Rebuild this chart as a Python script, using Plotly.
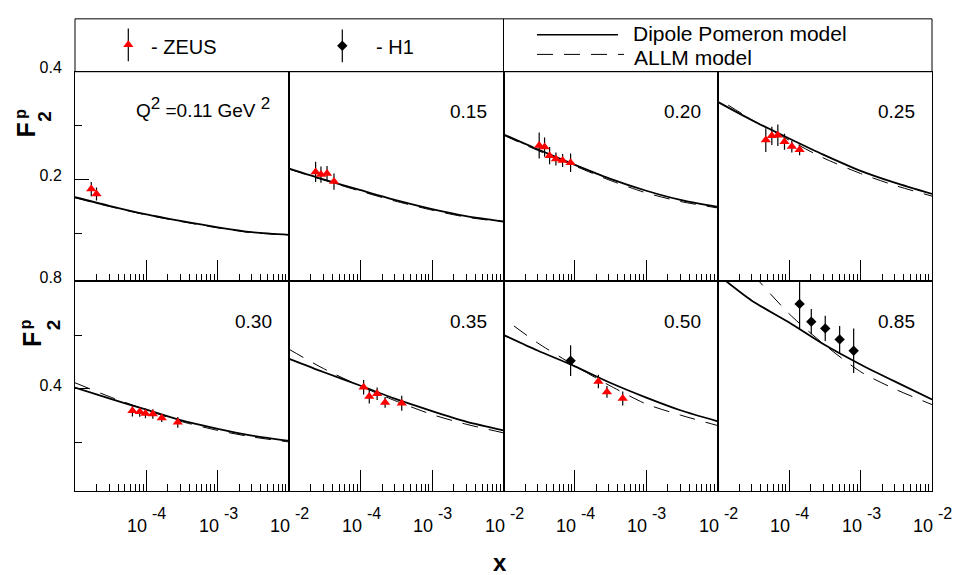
import math
import plotly.graph_objects as go

W, H = 953, 575
FONT = "Liberation Sans, Arial, Helvetica, sans-serif"

# ---------------- data ----------------
PANEL_LABELS = ["Q<sup><span style='font-size:17px'>2</span></sup> =0.11 GeV <sup><span style='font-size:17px'>2</span></sup>",
                "0.15", "0.20", "0.25", "0.30", "0.35", "0.50", "0.85"]

# model curves on a log-x grid
X_GRID = [1e-5, 3e-5, 1e-4, 3e-4, 1e-3, 3e-3, 1e-2]
DIPOLE = [
    [0.167, 0.151, 0.135, 0.123, 0.111, 0.102, 0.097],
    [0.220, 0.200, 0.180, 0.162, 0.145, 0.132, 0.122],
    [0.284, 0.256, 0.227, 0.202, 0.179, 0.162, 0.149],
    [0.344, 0.310, 0.276, 0.246, 0.216, 0.194, 0.173],
    [0.405, 0.365, 0.323, 0.284, 0.252, 0.227, 0.207],
    [0.512, 0.463, 0.412, 0.364, 0.318, 0.279, 0.246],
    [0.601, 0.543, 0.484, 0.425, 0.368, 0.321, 0.280],
    [0.825, 0.728, 0.647, 0.567, 0.491, 0.428, 0.361],
]
ALLM_X = [
    [1e-5, 3e-5, 1e-4, 3e-4, 1e-3, 3e-3, 1e-2],
    [1e-5, 3e-5, 1e-4, 3e-4, 1e-3, 3e-3, 1e-2],
    [1e-5, 3e-5, 1e-4, 3e-4, 1e-3, 3e-3, 1e-2],
    [1.4e-5, 3e-5, 1e-4, 3e-4, 1e-3, 3e-3, 1e-2],
    [1e-5, 3e-5, 1e-4, 3e-4, 1e-3, 3e-3, 1e-2],
    [1e-5, 3e-5, 1e-4, 3e-4, 1e-3, 3e-3, 1e-2],
    [1.4e-5, 3e-5, 1e-4, 3e-4, 1e-3, 3e-3, 1e-2],
    [3e-5, 1e-4, 3e-4, 1e-3, 3e-3, 1e-2],
]
ALLM = [
    [0.166, 0.150, 0.134, 0.122, 0.110, 0.101, 0.097],
    [0.219, 0.199, 0.178, 0.160, 0.143, 0.130, 0.121],
    [0.282, 0.254, 0.225, 0.199, 0.175, 0.159, 0.147],
    [0.338, 0.311, 0.273, 0.240, 0.211, 0.189, 0.169],
    [0.423, 0.372, 0.322, 0.280, 0.246, 0.222, 0.203],
    [0.547, 0.476, 0.410, 0.357, 0.305, 0.269, 0.237],
    [0.634, 0.571, 0.486, 0.414, 0.344, 0.303, 0.264],
    [0.830, 0.679, 0.568, 0.464, 0.400, 0.342],
]

# ZEUS data (red triangles)
ZEUS_X = [
    [1.69e-5, 2.0e-5],
    [2.34e-5, 2.78e-5, 3.38e-5, 4.23e-5],
    [3.16e-5, 3.76e-5, 4.42e-5, 5.42e-5, 6.72e-5, 8.7e-5],
    [4.71e-5, 5.72e-5, 6.94e-5, 8.6e-5, 1.09e-4, 1.40e-4],
    [6.37e-5, 8.07e-5, 9.7e-5, 1.23e-4, 1.64e-4, 2.75e-4],
    [1.10e-4, 1.32e-4, 1.70e-4, 2.20e-4, 3.76e-4],
    [2.13e-4, 2.81e-4, 4.67e-4],
    [],
]
ZEUS_Y = [
    [0.182, 0.173],
    [0.214, 0.209, 0.211, 0.196],
    [0.263, 0.260, 0.244, 0.238, 0.235, 0.231],
    [0.273, 0.281, 0.282, 0.270, 0.261, 0.255],
    [0.319, 0.315, 0.309, 0.307, 0.292, 0.276],
    [0.406, 0.372, 0.382, 0.350, 0.347],
    [0.428, 0.389, 0.365],
    [],
]
ZEUS_ERR = [
    [0.013, 0.012],
    [0.019, 0.015, 0.014, 0.015],
    [0.024, 0.018, 0.016, 0.012, 0.012, 0.017],
    [0.022, 0.017, 0.020, 0.015, 0.011, 0.010],
    [0.021, 0.018, 0.018, 0.018, 0.015, 0.020],
    [0.027, 0.026, 0.023, 0.020, 0.028],
    [0.025, 0.022, 0.026],
    [],
]

# H1 data (black diamonds)
H1_X = [[], [], [], [], [], [], [8.7e-5],
        [1.40e-4, 2.04e-4, 3.2e-4, 5.09e-4, 8.0e-4]]
H1_Y = [[], [], [], [], [], [], [0.505],
        [0.716, 0.650, 0.625, 0.584, 0.542]]
H1_ERR = [[], [], [], [], [], [], [0.057],
          [0.092, 0.047, 0.047, 0.050, 0.083]]

# axes
Y_RANGES = [[0.0109, 0.4], [0.0218, 0.8]]
Y_MAJOR = [[0.2, 0.4], [0.4, 0.8]]
Y_MAJOR_TEXT = [["0.2", "0.4"], ["0.4", "0.8"]]
Y_MINOR = [[0.1, 0.3], [0.2, 0.6]]
X_MAJOR = [1e-5, 1e-4, 1e-3, 1e-2]
X_MINOR = [m * 10.0 ** e for e in (-5, -4, -3) for m in range(2, 10)]
X_LABEL_VALS = [1e-4, 1e-3, 1e-2]
X_LABEL_BASE = ["10", "10", "10"]
X_LABEL_EXP = ["-4", "-3", "-2"]

LEGEND_NAMES = ["- ZEUS", "- H1", "Dipole Pomeron model", "ALLM model"]

# ---------------- geometry (pixels) ----------------
LEFT, RIGHT = 75, 932
PW = (RIGHT - LEFT) / 4.0
ROW_TOP = [61, 275]
PH = 214
LEG_TOP = 7


def px(x):
    return x / W


def py(y):
    return 1 - y / H


fig = go.Figure()
layout = {}
annotations = []

for i in range(8):
    r, c = divmod(i, 4)
    sfx = "" if i == 0 else str(i + 1)
    xa, ya = "x" + sfx, "y" + sfx
    x0 = LEFT + c * PW
    x1 = x0 + PW
    top = ROW_TOP[r]

    fig.add_trace(go.Scatter(
        x=X_GRID, y=DIPOLE[i], mode="lines", xaxis=xa, yaxis=ya,
        line=dict(color="black", width=1.8, shape="spline", smoothing=0.7),
        hoverinfo="skip", showlegend=False))
    fig.add_trace(go.Scatter(
        x=ALLM_X[i], y=ALLM[i], mode="lines", xaxis=xa, yaxis=ya,
        line=dict(color="black", width=1, dash="16px,11px",
                  shape="spline", smoothing=0.7),
        hoverinfo="skip", showlegend=False))
    if ZEUS_X[i]:
        fig.add_trace(go.Scatter(
            x=ZEUS_X[i], y=ZEUS_Y[i], mode="markers", xaxis=xa, yaxis=ya,
            marker=dict(symbol="triangle-up", size=9, color="red"),
            error_y=dict(type="data", array=ZEUS_ERR[i], color="black",
                         thickness=1.2, width=0),
            hoverinfo="skip", showlegend=False))
    if H1_X[i]:
        fig.add_trace(go.Scatter(
            x=H1_X[i], y=H1_Y[i], mode="markers", xaxis=xa, yaxis=ya,
            marker=dict(symbol="diamond", size=8, color="black"),
            error_y=dict(type="data", array=H1_ERR[i], color="black",
                         thickness=1.2, width=0),
            hoverinfo="skip", showlegend=False))

    layout["xaxis" + sfx] = dict(
        type="log", range=[-5, -2], domain=[px(x0), px(x1)], anchor=ya,
        showline=True, mirror=True, linecolor="black", linewidth=1,
        ticks="inside", ticklen=21, tickwidth=1, tickcolor="black",
        tickvals=X_MAJOR, showticklabels=False,
        minor=dict(tickvals=X_MINOR, ticks="inside", ticklen=7,
                   tickwidth=1, tickcolor="black", showgrid=False),
        showgrid=False, zeroline=False, fixedrange=True)
    yd = dict(
        range=Y_RANGES[r], domain=[py(top + PH), py(top)], anchor=xa,
        showline=True, mirror=True, linecolor="black", linewidth=1,
        showgrid=False, zeroline=False, fixedrange=True)
    if c == 0:
        yd.update(ticks="inside", ticklen=14, tickwidth=1, tickcolor="black",
                  tickvals=Y_MAJOR[r], ticktext=Y_MAJOR_TEXT[r],
                  showticklabels=True,
                  tickfont=dict(family=FONT, size=16, color="black"),
                  ticklabelshift=-4, ticklabelstandoff=9,
                  minor=dict(tickvals=Y_MINOR[r], ticks="inside", ticklen=7,
                             tickwidth=1, tickcolor="black", showgrid=False))
    else:
        yd.update(ticks="", showticklabels=False)
    layout["yaxis" + sfx] = yd

    # Q^2 label
    annotations.append(dict(
        text=PANEL_LABELS[i], xref="paper", yref="paper",
        x=px(x1 - (17 if i == 0 else 15)), y=py(top + 41), xanchor="right", yanchor="middle",
        showarrow=False, font=dict(family=FONT, size=19, color="black"),
        yshift=(4 if i == 0 else 0)))

    # x tick labels for bottom row
    if r == 1:
        for v, b, e in zip(X_LABEL_VALS, X_LABEL_BASE, X_LABEL_EXP):
            annotations.append(dict(
                text=b, xref=xa, yref="paper", x=math.log10(v), y=py(525),
                xanchor="right", yanchor="middle", xshift=3, showarrow=False,
                font=dict(family=FONT, size=18, color="black")))
            annotations.append(dict(
                text=e, xref=xa, yref="paper", x=math.log10(v), y=py(512),
                xanchor="left", yanchor="middle", xshift=4, showarrow=False,
                font=dict(family=FONT, size=16, color="black")))

# y-axis titles (F_2^p), stacked sub/superscript
for cx, cy, fx, fy, sx, sy in [(26, 121, 21, 104, 45, 107),
                               (32, 335, 25, 319, 53, 320)]:
    annotations.append(dict(text="<b>F</b>", xref="paper", yref="paper",
                            x=px(cx), y=py(cy), xanchor="center", yanchor="middle",
                            textangle=-90, showarrow=False,
                            font=dict(family=FONT, size=25, color="black")))
    annotations.append(dict(text="<b>p</b>", xref="paper", yref="paper",
                            x=px(fx), y=py(fy), xanchor="center", yanchor="middle",
                            textangle=-90, showarrow=False,
                            font=dict(family=FONT, size=16, color="black")))
    annotations.append(dict(text="<b>2</b>", xref="paper", yref="paper",
                            x=px(sx), y=py(sy), xanchor="center", yanchor="middle",
                            textangle=-90, showarrow=False,
                            font=dict(family=FONT, size=19, color="black")))

# x-axis title
annotations.append(dict(text="<b>x</b>", xref="paper", yref="paper",
                        x=px(500), y=py(562), xanchor="center", yanchor="middle",
                        showarrow=False, font=dict(family=FONT, size=24, color="black")))

# ---------------- legend box ----------------
layout["xaxis9"] = dict(domain=[px(LEFT), px(RIGHT)], range=[0, RIGHT - LEFT],
                        anchor="y9", visible=False, fixedrange=True)
layout["yaxis9"] = dict(domain=[py(ROW_TOP[0]), py(LEG_TOP)],
                        range=[ROW_TOP[0] - LEG_TOP, 0], anchor="x9",
                        visible=False, fixedrange=True)

fig.add_trace(go.Scatter(x=[53.3], y=[26.5], mode="markers", xaxis="x9", yaxis="y9",
                         marker=dict(symbol="triangle-up", size=9, color="red"),
                         error_y=dict(type="data", array=[16.7], color="black",
                                      thickness=1.2, width=0),
                         hoverinfo="skip", showlegend=False, cliponaxis=False))
fig.add_trace(go.Scatter(x=[267.3], y=[27.5], mode="markers", xaxis="x9", yaxis="y9",
                         marker=dict(symbol="diamond", size=8, color="black"),
                         error_y=dict(type="data", array=[16.7], color="black",
                                      thickness=1.2, width=0),
                         hoverinfo="skip", showlegend=False, cliponaxis=False))
fig.add_trace(go.Scatter(x=[462, 543], y=[16.3, 16.3], mode="lines", xaxis="x9", yaxis="y9",
                         line=dict(color="black", width=1.5),
                         hoverinfo="skip", showlegend=False))
fig.add_trace(go.Scatter(x=[462, 549], y=[36.3, 36.3], mode="lines", xaxis="x9", yaxis="y9",
                         line=dict(color="black", width=1, dash="16px,11px"),
                         hoverinfo="skip", showlegend=False))

for name, lx, ly, fs in zip(LEGEND_NAMES, [74, 299, 556, 557], [29, 29, 15, 39.5],
                            [20, 20, 21, 21]):
    annotations.append(dict(text=name, xref="x9", yref="y9", x=lx, y=ly,
                            xanchor="left", yanchor="middle", showarrow=False,
                            font=dict(family=FONT, size=fs, color="black")))

shapes = [
    dict(type="rect", xref="paper", yref="paper", x0=px(LEFT), x1=px(RIGHT),
         y0=py(ROW_TOP[0]), y1=py(LEG_TOP), line=dict(color="black", width=1)),
    dict(type="line", xref="paper", yref="paper", x0=px(LEFT + 2 * PW), x1=px(LEFT + 2 * PW),
         y0=py(ROW_TOP[0]), y1=py(LEG_TOP), line=dict(color="black", width=1)),
]

fig.update_layout(
    width=W, height=H, margin=dict(l=0, r=0, t=0, b=0, pad=0),
    paper_bgcolor="white", plot_bgcolor="white", showlegend=False,
    annotations=annotations, shapes=shapes,
    font=dict(family=FONT, color="black"),
    **layout)

fig.write_html("out.html")
